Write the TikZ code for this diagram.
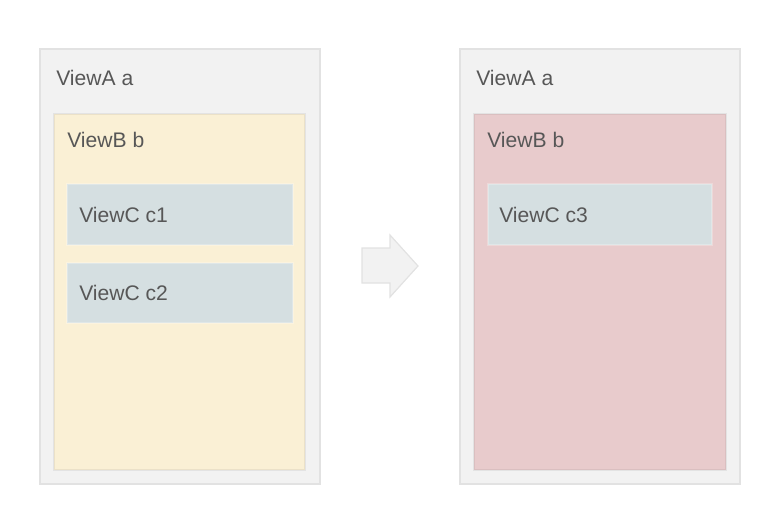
\documentclass[tikz,border=0pt]{standalone}
\usepackage{fontspec}
\setmainfont{Liberation Sans}
\usepackage{tikz}
\usepackage{color}
\definecolor{outerfill}{HTML}{F2F2F2}
\definecolor{outerline}{HTML}{E2E2E2}
\definecolor{yellowfill}{HTML}{FAF0D5}
\definecolor{pinkfill}{HTML}{E8CBCC}
\definecolor{cfill}{HTML}{D5DFE1}
\definecolor{labelgray}{HTML}{575757}

\begin{document}
\begin{tikzpicture}[x=0.025cm,y=-0.025cm,
  viewa/.style={fill=outerfill,draw=outerline,line width=0.05cm},
  viewb/.style={draw=black,draw opacity=0.06,line width=0.04cm},
  viewc/.style={fill=cfill,draw=white,draw opacity=0.25,line width=0.03cm},
  lbl/.style={anchor=west,inner sep=0,text=labelgray,font=\fontsize{15}{18}\selectfont}]
\useasboundingbox (0,0) rectangle (782,516);
\draw[viewa] (40,49) rectangle (320,484);
\draw[viewb,fill=yellowfill] (54,114) rectangle (305,470);
\draw[viewc] (67,184) rectangle (293,245);
\draw[viewc] (67,263) rectangle (293,323);
\node[lbl] (aleft) at (56,78) {ViewA a};
\node[lbl] (bleft) at (67,140) {ViewB b};
\node[lbl] (cone) at (79,215) {ViewC c1};
\node[lbl] (ctwo) at (79,293) {ViewC c2};
\draw[fill=outerfill,draw=outerline,line width=0.03cm] (362,248) -- (390,248) -- (390,235) -- (418,266) -- (390,297) -- (390,283) -- (362,283) -- cycle;
\draw[viewa] (460,49) rectangle (740,484);
\draw[viewb,fill=pinkfill] (474,114) rectangle (726,470);
\draw[viewc] (488,184) rectangle (712,245);
\node[lbl] (aright) at (476,78) {ViewA a};
\node[lbl] (bright) at (487,140) {ViewB b};
\node[lbl] (cthree) at (499,215) {ViewC c3};
\end{tikzpicture}
\end{document}
